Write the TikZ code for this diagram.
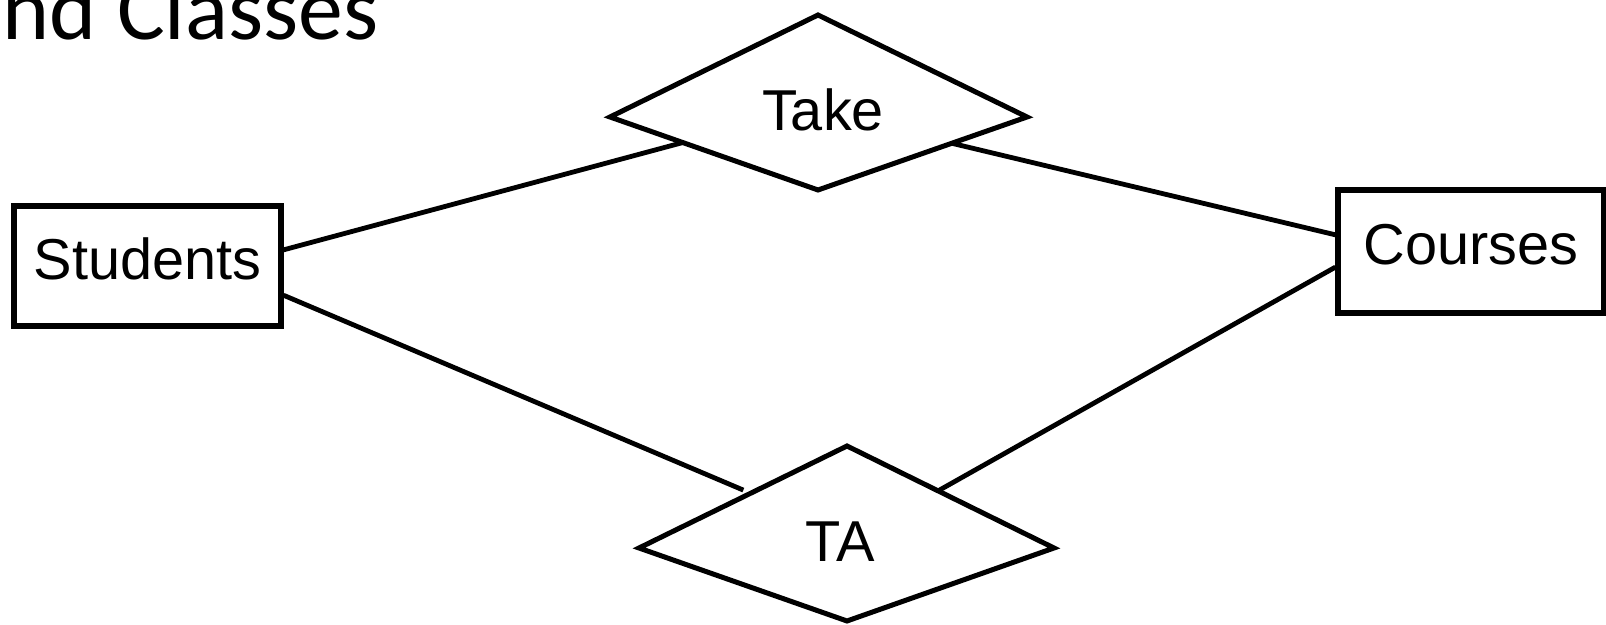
\documentclass[tikz,border=0pt]{standalone}
\usepackage{fontspec}
\setmainfont{Liberation Sans}
\newfontfamily\titlefont{Carlito}
\usetikzlibrary{calc, positioning}

\tikzset{
  entity/.style={draw, rectangle, line width=0.06cm, minimum width=2.65cm, minimum height=1.2cm,
    inner sep=0pt, text depth=0.14cm, font=\fontsize{16.4}{20}\selectfont},
  relbox/.style={line width=0.05cm, line join=miter},
  reltext/.style={inner sep=0pt, font=\fontsize{16.4}{20}\selectfont},
  link/.style={line width=0.048cm}
}

\begin{document}
\begin{tikzpicture}[x=0.01cm, y=-0.01cm]
\useasboundingbox (0,0) rectangle (1606,625);
\clip (0,0) rectangle (1606,625);
\node[anchor=base west, inner sep=0pt, font=\titlefont\fontsize{25.5}{30}\selectfont] (title) at (2,40) {nd Classes};

\node[entity, minimum width=2.66cm, minimum height=1.19cm] (stu) at (147.5,266) {Students};
\node[entity, minimum height=1.22cm] (cou) at (1471,251.5) {Courses};

\coordinate (takeW) at (610,117);
\coordinate (takeN) at (818,15);
\coordinate (takeE) at (1027,117);
\coordinate (takeS) at (818,190);
\draw [relbox] (takeW) -- (takeN) -- (takeE) -- (takeS) -- cycle;
\node[reltext] (take) at (823,110) {Take};

\coordinate (taW) at (639,548);
\coordinate (taN) at (847,446);
\coordinate (taE) at (1054,548);
\coordinate (taS) at (847,621);
\draw [relbox] (taW) -- (taN) -- (taE) -- (taS) -- cycle;
\node[reltext] (ta) at (840,542) {TA};

\draw [link] ($(stu.north east)!0.371!(stu.south east)$) -- ($(takeW)!0.35!(takeS)$);
\draw [link] ($(takeE)!0.36!(takeS)$) -- ($(cou.north west)!0.37!(cou.south west)$);
\draw [link, shorten >=0.08cm] ($(stu.north east)!0.734!(stu.south east)$) -- ($(taW)!0.537!(taN)$);
\draw [link] ($(taN)!0.44!(taE)$) -- ($(cou.north west)!0.622!(cou.south west)$);
\end{tikzpicture}
\end{document}
